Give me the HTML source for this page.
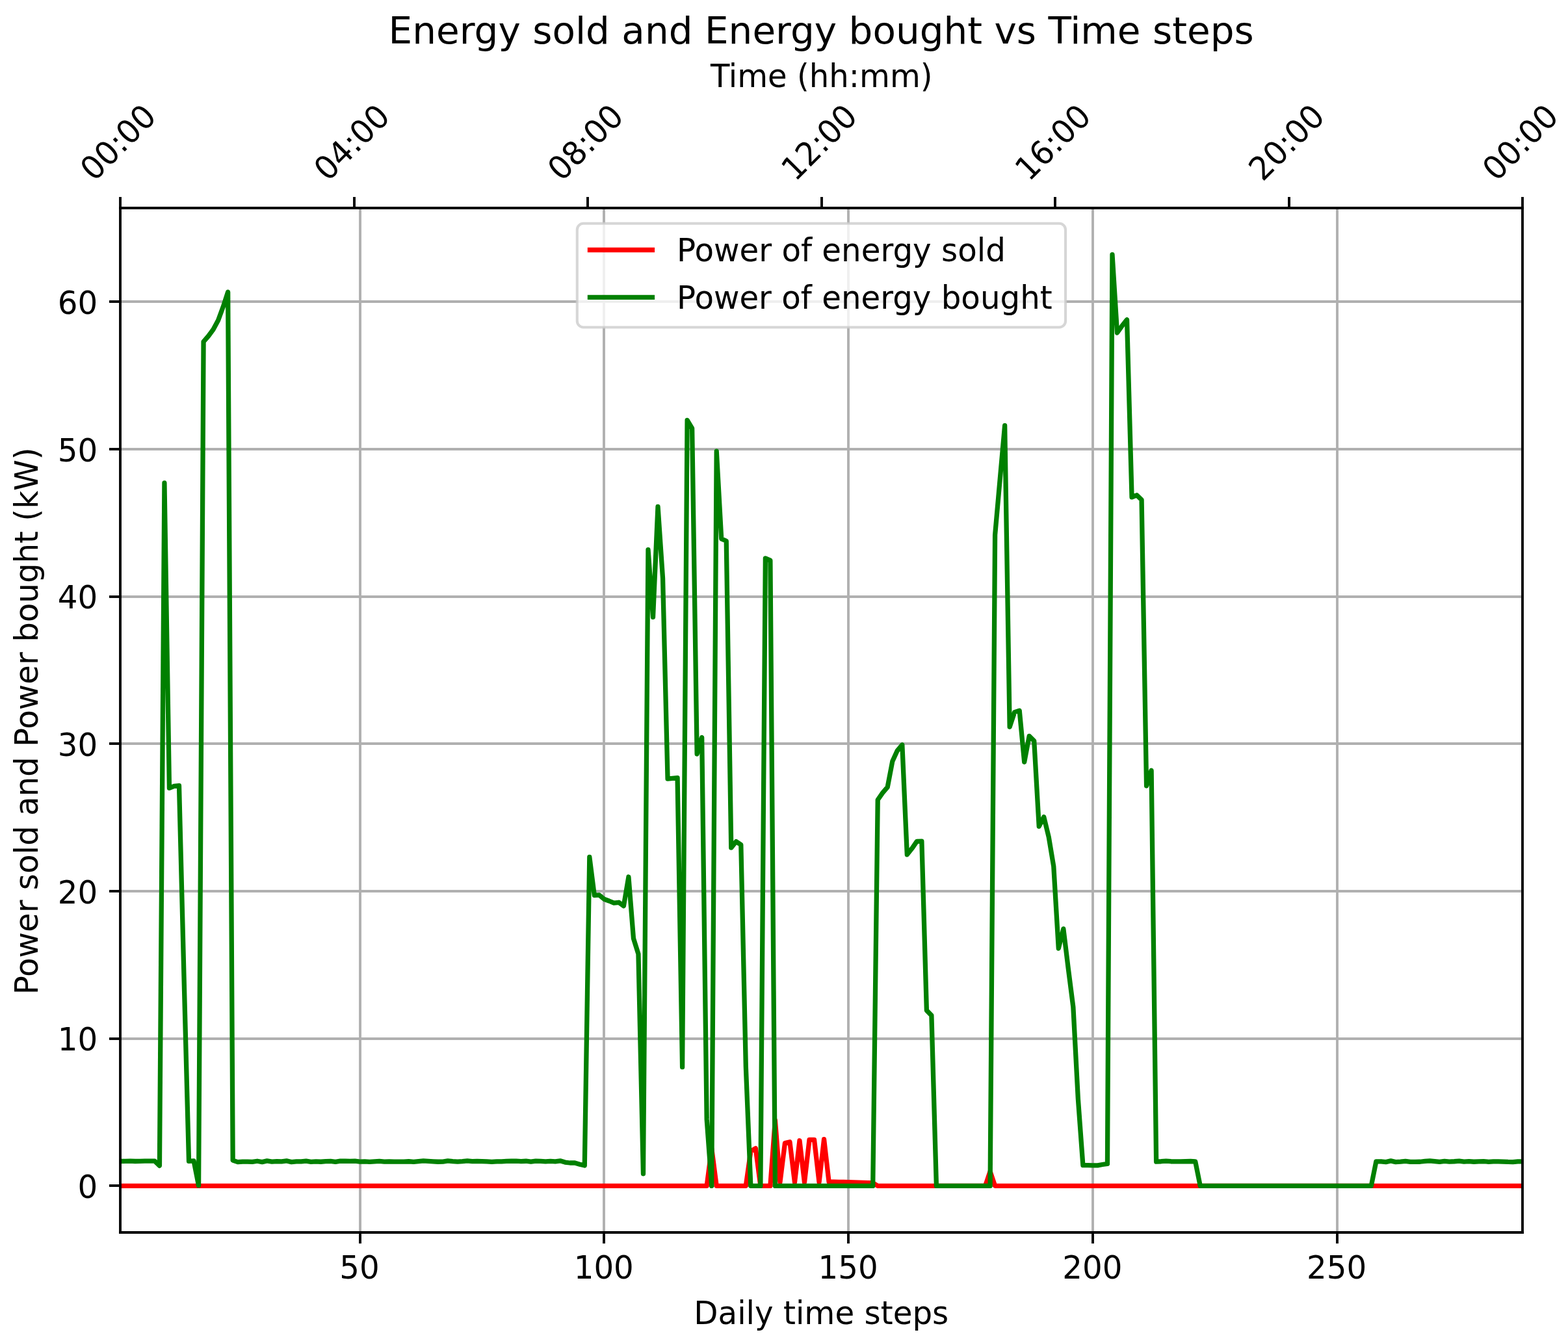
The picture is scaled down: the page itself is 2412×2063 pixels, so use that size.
<!DOCTYPE html>
<html lang="en">
<head>
<meta charset="utf-8">
<title>Energy sold and Energy bought vs Time steps</title>
<style>html,body{margin:0;padding:0;background:#ffffff;}body{width:2412px;height:2063px;overflow:hidden;}svg{display:block;}</style>
</head>
<body>
<svg xmlns="http://www.w3.org/2000/svg" width="2412" height="2063" viewBox="0 0 2412 2063">
<rect x="0" y="0" width="2412" height="2063" fill="#ffffff"/>
<clipPath id="axclip"><rect x="185.3" y="320.0" width="2157.0" height="1576.0"/></clipPath>
<g stroke="#b0b0b0" stroke-width="3.889" stroke-linecap="butt" fill="none" clip-path="url(#axclip)">
<line x1="554.0" y1="320.0" x2="554.0" y2="1896.0"/>
<line x1="929.0" y1="320.0" x2="929.0" y2="1896.0"/>
<line x1="1305.0" y1="320.0" x2="1305.0" y2="1896.0"/>
<line x1="1681.0" y1="320.0" x2="1681.0" y2="1896.0"/>
<line x1="2057.0" y1="320.0" x2="2057.0" y2="1896.0"/>
<line x1="185.3" y1="1824.0" x2="2342.3" y2="1824.0"/>
<line x1="185.3" y1="1598.0" x2="2342.3" y2="1598.0"/>
<line x1="185.3" y1="1371.0" x2="2342.3" y2="1371.0"/>
<line x1="185.3" y1="1144.0" x2="2342.3" y2="1144.0"/>
<line x1="185.3" y1="918.0" x2="2342.3" y2="918.0"/>
<line x1="185.3" y1="691.0" x2="2342.3" y2="691.0"/>
<line x1="185.3" y1="464.0" x2="2342.3" y2="464.0"/>
</g>
<polyline points="185.30,1824.36 192.82,1824.36 200.33,1824.36 207.85,1824.36 215.36,1824.36 222.88,1824.36 230.39,1824.36 237.91,1824.36 245.43,1824.36 252.94,1824.36 260.46,1824.36 267.97,1824.36 275.49,1824.36 283.00,1824.36 290.52,1824.36 298.04,1824.36 305.55,1824.36 313.07,1824.36 320.58,1824.36 328.10,1824.36 335.61,1824.36 343.13,1824.36 350.64,1824.36 358.16,1824.36 365.68,1824.36 373.19,1824.36 380.71,1824.36 388.22,1824.36 395.74,1824.36 403.25,1824.36 410.77,1824.36 418.29,1824.36 425.80,1824.36 433.32,1824.36 440.83,1824.36 448.35,1824.36 455.86,1824.36 463.38,1824.36 470.90,1824.36 478.41,1824.36 485.93,1824.36 493.44,1824.36 500.96,1824.36 508.47,1824.36 515.99,1824.36 523.51,1824.36 531.02,1824.36 538.54,1824.36 546.05,1824.36 553.57,1824.36 561.08,1824.36 568.60,1824.36 576.12,1824.36 583.63,1824.36 591.15,1824.36 598.66,1824.36 606.18,1824.36 613.69,1824.36 621.21,1824.36 628.73,1824.36 636.24,1824.36 643.76,1824.36 651.27,1824.36 658.79,1824.36 666.30,1824.36 673.82,1824.36 681.33,1824.36 688.85,1824.36 696.37,1824.36 703.88,1824.36 711.40,1824.36 718.91,1824.36 726.43,1824.36 733.94,1824.36 741.46,1824.36 748.98,1824.36 756.49,1824.36 764.01,1824.36 771.52,1824.36 779.04,1824.36 786.55,1824.36 794.07,1824.36 801.59,1824.36 809.10,1824.36 816.62,1824.36 824.13,1824.36 831.65,1824.36 839.16,1824.36 846.68,1824.36 854.20,1824.36 861.71,1824.36 869.23,1824.36 876.74,1824.36 884.26,1824.36 891.77,1824.36 899.29,1824.36 906.81,1824.36 914.32,1824.36 921.84,1824.36 929.35,1824.36 936.87,1824.36 944.38,1824.36 951.90,1824.36 959.41,1824.36 966.93,1824.36 974.45,1824.36 981.96,1824.36 989.48,1824.36 996.99,1824.36 1004.51,1824.36 1012.02,1824.36 1019.54,1824.36 1027.06,1824.36 1034.57,1824.36 1042.09,1824.36 1049.60,1824.36 1057.12,1824.36 1064.63,1824.36 1072.15,1824.36 1079.67,1824.36 1087.18,1824.36 1094.70,1766.56 1102.21,1824.36 1109.73,1824.36 1117.24,1824.36 1124.76,1824.36 1132.28,1824.36 1139.79,1824.36 1147.31,1824.36 1154.82,1771.10 1162.34,1766.56 1169.85,1824.36 1177.37,1824.36 1184.89,1824.36 1192.40,1723.50 1199.92,1818.70 1207.43,1758.63 1214.95,1756.82 1222.46,1818.70 1229.98,1754.78 1237.50,1818.70 1245.01,1753.42 1252.53,1753.42 1260.04,1818.70 1267.56,1752.74 1275.07,1818.02 1282.59,1818.24 1290.10,1818.47 1297.62,1818.47 1305.14,1818.70 1312.65,1818.92 1320.17,1819.15 1327.68,1819.38 1335.20,1819.60 1342.71,1819.83 1350.23,1824.36 1357.75,1824.36 1365.26,1824.36 1372.78,1824.36 1380.29,1824.36 1387.81,1824.36 1395.32,1824.36 1402.84,1824.36 1410.36,1824.36 1417.87,1824.36 1425.39,1824.36 1432.90,1824.36 1440.42,1824.36 1447.93,1824.36 1455.45,1824.36 1462.97,1824.36 1470.48,1824.36 1478.00,1824.36 1485.51,1824.36 1493.03,1824.36 1500.54,1824.36 1508.06,1824.36 1515.58,1824.36 1523.09,1802.15 1530.61,1824.36 1538.12,1824.36 1545.64,1824.36 1553.15,1824.36 1560.67,1824.36 1568.19,1824.36 1575.70,1824.36 1583.22,1824.36 1590.73,1824.36 1598.25,1824.36 1605.76,1824.36 1613.28,1824.36 1620.79,1824.36 1628.31,1824.36 1635.83,1824.36 1643.34,1824.36 1650.86,1824.36 1658.37,1824.36 1665.89,1824.36 1673.40,1824.36 1680.92,1824.36 1688.44,1824.36 1695.95,1824.36 1703.47,1824.36 1710.98,1824.36 1718.50,1824.36 1726.01,1824.36 1733.53,1824.36 1741.05,1824.36 1748.56,1824.36 1756.08,1824.36 1763.59,1824.36 1771.11,1824.36 1778.62,1824.36 1786.14,1824.36 1793.66,1824.36 1801.17,1824.36 1808.69,1824.36 1816.20,1824.36 1823.72,1824.36 1831.23,1824.36 1838.75,1824.36 1846.27,1824.36 1853.78,1824.36 1861.30,1824.36 1868.81,1824.36 1876.33,1824.36 1883.84,1824.36 1891.36,1824.36 1898.87,1824.36 1906.39,1824.36 1913.91,1824.36 1921.42,1824.36 1928.94,1824.36 1936.45,1824.36 1943.97,1824.36 1951.48,1824.36 1959.00,1824.36 1966.52,1824.36 1974.03,1824.36 1981.55,1824.36 1989.06,1824.36 1996.58,1824.36 2004.09,1824.36 2011.61,1824.36 2019.13,1824.36 2026.64,1824.36 2034.16,1824.36 2041.67,1824.36 2049.19,1824.36 2056.70,1824.36 2064.22,1824.36 2071.74,1824.36 2079.25,1824.36 2086.77,1824.36 2094.28,1824.36 2101.80,1824.36 2109.31,1824.36 2116.83,1824.36 2124.35,1824.36 2131.86,1824.36 2139.38,1824.36 2146.89,1824.36 2154.41,1824.36 2161.92,1824.36 2169.44,1824.36 2176.96,1824.36 2184.47,1824.36 2191.99,1824.36 2199.50,1824.36 2207.02,1824.36 2214.53,1824.36 2222.05,1824.36 2229.56,1824.36 2237.08,1824.36 2244.60,1824.36 2252.11,1824.36 2259.63,1824.36 2267.14,1824.36 2274.66,1824.36 2282.17,1824.36 2289.69,1824.36 2297.21,1824.36 2304.72,1824.36 2312.24,1824.36 2319.75,1824.36 2327.27,1824.36 2334.78,1824.36 2342.30,1824.36" fill="none" stroke="#ff0000" stroke-width="7.292" stroke-linejoin="round" stroke-linecap="square" clip-path="url(#axclip)"/>
<polyline points="185.30,1786.51 192.82,1786.28 200.33,1786.06 207.85,1786.51 215.36,1786.28 222.88,1786.06 230.39,1786.06 237.91,1786.06 245.43,1793.31 252.94,742.96 260.46,1212.38 267.97,1209.43 275.49,1208.75 283.00,1502.50 290.52,1786.28 298.04,1785.83 305.55,1823.68 313.07,525.59 320.58,516.98 328.10,506.78 335.61,492.73 343.13,472.33 350.64,449.21 358.16,1785.15 365.68,1787.64 373.19,1787.08 380.71,1787.04 388.22,1787.35 395.74,1786.25 403.25,1787.59 410.77,1785.89 418.29,1787.17 425.80,1786.56 433.32,1786.88 440.83,1785.91 448.35,1787.59 455.86,1786.92 463.38,1786.96 470.90,1786.10 478.41,1787.36 485.93,1786.84 493.44,1787.24 500.96,1786.71 508.47,1786.41 515.99,1787.36 523.51,1786.09 531.02,1786.23 538.54,1786.45 546.05,1786.23 553.57,1787.13 561.08,1786.81 568.60,1787.27 576.12,1786.89 583.63,1786.44 591.15,1787.13 598.66,1786.96 606.18,1787.13 613.69,1787.22 621.21,1787.12 628.73,1786.75 636.24,1787.37 643.76,1786.60 651.27,1785.89 658.79,1786.32 666.30,1786.85 673.82,1787.24 681.33,1787.16 688.85,1785.89 696.37,1786.71 703.88,1787.10 711.40,1786.63 718.91,1785.89 726.43,1786.67 733.94,1786.39 741.46,1786.57 748.98,1786.94 756.49,1787.39 764.01,1786.94 771.52,1786.86 779.04,1786.41 786.55,1786.26 794.07,1786.21 801.59,1786.58 809.10,1786.24 816.62,1787.17 824.13,1786.03 831.65,1786.45 839.16,1786.91 846.68,1786.46 854.20,1786.78 861.71,1785.83 869.23,1788.10 876.74,1789.00 884.26,1789.00 891.77,1791.27 899.29,1793.08 906.81,1318.46 914.32,1377.39 921.84,1376.93 929.35,1383.28 936.87,1386.00 944.38,1389.17 951.90,1388.27 959.41,1393.71 966.93,1349.05 974.45,1443.57 981.96,1467.60 989.48,1805.78 996.99,845.64 1004.51,949.45 1012.02,779.45 1019.54,889.84 1027.06,1198.10 1034.57,1197.42 1042.09,1196.74 1049.60,1641.67 1057.12,646.40 1064.63,658.87 1072.15,1160.02 1079.67,1134.41 1087.18,1721.91 1094.70,1824.36 1102.21,694.23 1109.73,828.87 1117.24,832.27 1124.76,1304.18 1132.28,1294.66 1139.79,1299.64 1147.31,1640.77 1154.82,1824.36 1162.34,1824.36 1169.85,1824.36 1177.37,858.79 1184.89,862.19 1192.40,1824.36 1199.92,1824.36 1207.43,1824.36 1214.95,1824.36 1222.46,1824.36 1229.98,1824.36 1237.50,1824.36 1245.01,1824.36 1252.53,1824.36 1260.04,1824.36 1267.56,1824.36 1275.07,1824.36 1282.59,1824.36 1290.10,1824.36 1297.62,1824.36 1305.14,1824.36 1312.65,1824.36 1320.17,1824.36 1327.68,1824.36 1335.20,1824.36 1342.71,1824.36 1350.23,1230.51 1357.75,1219.63 1365.26,1210.79 1372.78,1171.35 1380.29,1154.81 1387.81,1145.74 1395.32,1314.83 1402.84,1305.31 1410.36,1294.43 1417.87,1294.20 1425.39,1554.41 1432.90,1562.12 1440.42,1824.36 1447.93,1824.36 1455.45,1824.36 1462.97,1824.36 1470.48,1824.36 1478.00,1824.36 1485.51,1824.36 1493.03,1824.36 1500.54,1824.36 1508.06,1824.36 1515.58,1824.36 1523.09,1824.36 1530.61,822.97 1538.12,738.66 1545.64,654.56 1553.15,1118.31 1560.67,1095.65 1568.19,1093.15 1575.70,1172.26 1583.22,1132.37 1590.73,1139.85 1598.25,1271.31 1605.76,1256.80 1613.28,1287.86 1620.79,1332.96 1628.31,1458.99 1635.83,1428.84 1643.34,1490.49 1650.86,1549.20 1658.37,1690.63 1665.89,1792.63 1673.40,1792.63 1680.92,1792.86 1688.44,1792.86 1695.95,1791.50 1703.47,1790.36 1710.98,391.64 1718.50,511.99 1726.01,501.34 1733.53,491.82 1741.05,764.95 1748.56,761.77 1756.08,768.80 1763.59,1208.98 1771.11,1185.18 1778.62,1787.19 1786.14,1786.74 1793.66,1786.06 1801.17,1786.74 1808.69,1786.96 1816.20,1786.96 1823.72,1786.74 1831.23,1786.51 1838.75,1786.96 1846.27,1824.36 1853.78,1824.36 1861.30,1824.36 1868.81,1824.36 1876.33,1824.36 1883.84,1824.36 1891.36,1824.36 1898.87,1824.36 1906.39,1824.36 1913.91,1824.36 1921.42,1824.36 1928.94,1824.36 1936.45,1824.36 1943.97,1824.36 1951.48,1824.36 1959.00,1824.36 1966.52,1824.36 1974.03,1824.36 1981.55,1824.36 1989.06,1824.36 1996.58,1824.36 2004.09,1824.36 2011.61,1824.36 2019.13,1824.36 2026.64,1824.36 2034.16,1824.36 2041.67,1824.36 2049.19,1824.36 2056.70,1824.36 2064.22,1824.36 2071.74,1824.36 2079.25,1824.36 2086.77,1824.36 2094.28,1824.36 2101.80,1824.36 2109.31,1824.36 2116.83,1786.97 2124.35,1786.77 2131.86,1787.59 2139.38,1785.89 2146.89,1787.59 2154.41,1787.21 2161.92,1786.45 2169.44,1787.44 2176.96,1787.34 2184.47,1787.25 2191.99,1786.43 2199.50,1785.89 2207.02,1786.71 2214.53,1787.37 2222.05,1786.43 2229.56,1787.08 2237.08,1786.75 2244.60,1786.07 2252.11,1787.16 2259.63,1786.73 2267.14,1787.24 2274.66,1786.83 2282.17,1786.59 2289.69,1787.30 2297.21,1786.93 2304.72,1786.87 2312.24,1787.10 2319.75,1787.41 2327.27,1787.54 2334.78,1786.82 2342.30,1786.89" fill="none" stroke="#008000" stroke-width="7.292" stroke-linejoin="round" stroke-linecap="square" clip-path="url(#axclip)"/>
<g stroke="#000000" stroke-width="3.889" stroke-linecap="butt" fill="none">
<line x1="554.0" y1="1896.0" x2="554.0" y2="1913.01"/>
<line x1="929.0" y1="1896.0" x2="929.0" y2="1913.01"/>
<line x1="1305.0" y1="1896.0" x2="1305.0" y2="1913.01"/>
<line x1="1681.0" y1="1896.0" x2="1681.0" y2="1913.01"/>
<line x1="2057.0" y1="1896.0" x2="2057.0" y2="1913.01"/>
<line x1="185.0" y1="1824.0" x2="167.99" y2="1824.0"/>
<line x1="185.0" y1="1598.0" x2="167.99" y2="1598.0"/>
<line x1="185.0" y1="1371.0" x2="167.99" y2="1371.0"/>
<line x1="185.0" y1="1144.0" x2="167.99" y2="1144.0"/>
<line x1="185.0" y1="918.0" x2="167.99" y2="918.0"/>
<line x1="185.0" y1="691.0" x2="167.99" y2="691.0"/>
<line x1="185.0" y1="464.0" x2="167.99" y2="464.0"/>
<line x1="185.0" y1="320.0" x2="185.0" y2="302.99"/>
<line x1="545.0" y1="320.0" x2="545.0" y2="302.99"/>
<line x1="904.0" y1="320.0" x2="904.0" y2="302.99"/>
<line x1="1264.0" y1="320.0" x2="1264.0" y2="302.99"/>
<line x1="1623.0" y1="320.0" x2="1623.0" y2="302.99"/>
<line x1="1983.0" y1="320.0" x2="1983.0" y2="302.99"/>
<line x1="2342.0" y1="320.0" x2="2342.0" y2="302.99"/>
</g>
<g stroke="#000000" stroke-width="3.889" stroke-linecap="square" fill="none">
<line x1="185.0" y1="320.0" x2="185.0" y2="1896.0"/>
<line x1="2342.0" y1="320.0" x2="2342.0" y2="1896.0"/>
<line x1="185.0" y1="1896.0" x2="2342.0" y2="1896.0"/>
<line x1="185.0" y1="320.0" x2="2342.0" y2="320.0"/>
</g>
<rect x="887.80" y="343.80" width="751.27" height="159.70" rx="9.72" ry="9.72" fill="#ffffff" fill-opacity="0.8" stroke="#cccccc" stroke-opacity="0.8" stroke-width="4.132"/>
<line x1="903.80" y1="384.50" x2="1007.10" y2="384.50" stroke="#ff0000" stroke-width="7.292" stroke-linecap="butt"/>
<line x1="903.80" y1="457.45" x2="1007.10" y2="457.45" stroke="#008000" stroke-width="7.292" stroke-linecap="butt"/>
<g font-family="'DejaVu Sans', 'Liberation Sans', sans-serif" fill="#000000">
<text transform="translate(552.97 1967.46) scale(0.99300 1.02700)" font-size="48.611" text-anchor="middle">50</text>
<text transform="translate(928.75 1967.46) scale(0.99300 1.02700)" font-size="48.611" text-anchor="middle">100</text>
<text transform="translate(1304.54 1967.46) scale(0.99300 1.02700)" font-size="48.611" text-anchor="middle">150</text>
<text transform="translate(1680.32 1967.46) scale(0.99300 1.02700)" font-size="48.611" text-anchor="middle">200</text>
<text transform="translate(2056.10 1967.46) scale(0.99300 1.02700)" font-size="48.611" text-anchor="middle">250</text>
<text transform="translate(1263.30 2036.76) scale(0.99440 1.03000)" font-size="48.611" text-anchor="middle">Daily time steps</text>
<text transform="translate(150.27 1842.83) scale(0.99300 1.02700)" font-size="48.611" text-anchor="end">0</text>
<text transform="translate(150.27 1616.17) scale(0.99300 1.02700)" font-size="48.611" text-anchor="end">10</text>
<text transform="translate(150.27 1389.51) scale(0.99300 1.02700)" font-size="48.611" text-anchor="end">20</text>
<text transform="translate(150.27 1162.85) scale(0.99300 1.02700)" font-size="48.611" text-anchor="end">30</text>
<text transform="translate(150.27 936.19) scale(0.99300 1.02700)" font-size="48.611" text-anchor="end">40</text>
<text transform="translate(150.27 709.52) scale(0.99300 1.02700)" font-size="48.611" text-anchor="end">50</text>
<text transform="translate(150.27 482.86) scale(0.99300 1.02700)" font-size="48.611" text-anchor="end">60</text>
<text transform="translate(58.16 1109.35) rotate(-90.000) scale(0.99290 1.03700)" font-size="48.611" text-anchor="middle">Power sold and Power bought (kW)</text>
<text transform="translate(1263.16 67.12) scale(0.99500 0.97900)" font-size="58.333" text-anchor="middle">Energy sold and Energy bought vs Time steps</text>
<text transform="translate(1041.02 401.79) scale(0.99430 1.03000)" font-size="48.611" text-anchor="start">Power of energy sold</text>
<text transform="translate(1041.02 474.74) scale(0.99330 1.03000)" font-size="48.611" text-anchor="start">Power of energy bought</text>
<text transform="translate(1263.75 134.20) scale(0.99060 1.02500)" font-size="48.611" text-anchor="middle">Time (hh:mm)</text>
<text transform="translate(144.66 280.42) rotate(-45.000) scale(0.99300 1.02700)" font-size="48.611" text-anchor="start">00:00</text>
<text transform="translate(504.16 280.42) rotate(-45.000) scale(0.99300 1.02700)" font-size="48.611" text-anchor="start">04:00</text>
<text transform="translate(863.66 280.42) rotate(-45.000) scale(0.99300 1.02700)" font-size="48.611" text-anchor="start">08:00</text>
<text transform="translate(1223.16 280.42) rotate(-45.000) scale(0.99300 1.02700)" font-size="48.611" text-anchor="start">12:00</text>
<text transform="translate(1582.66 280.42) rotate(-45.000) scale(0.99300 1.02700)" font-size="48.611" text-anchor="start">16:00</text>
<text transform="translate(1942.16 280.42) rotate(-45.000) scale(0.99300 1.02700)" font-size="48.611" text-anchor="start">20:00</text>
<text transform="translate(2301.66 280.42) rotate(-45.000) scale(0.99300 1.02700)" font-size="48.611" text-anchor="start">00:00</text>
</g>
</svg>
</body>
</html>
